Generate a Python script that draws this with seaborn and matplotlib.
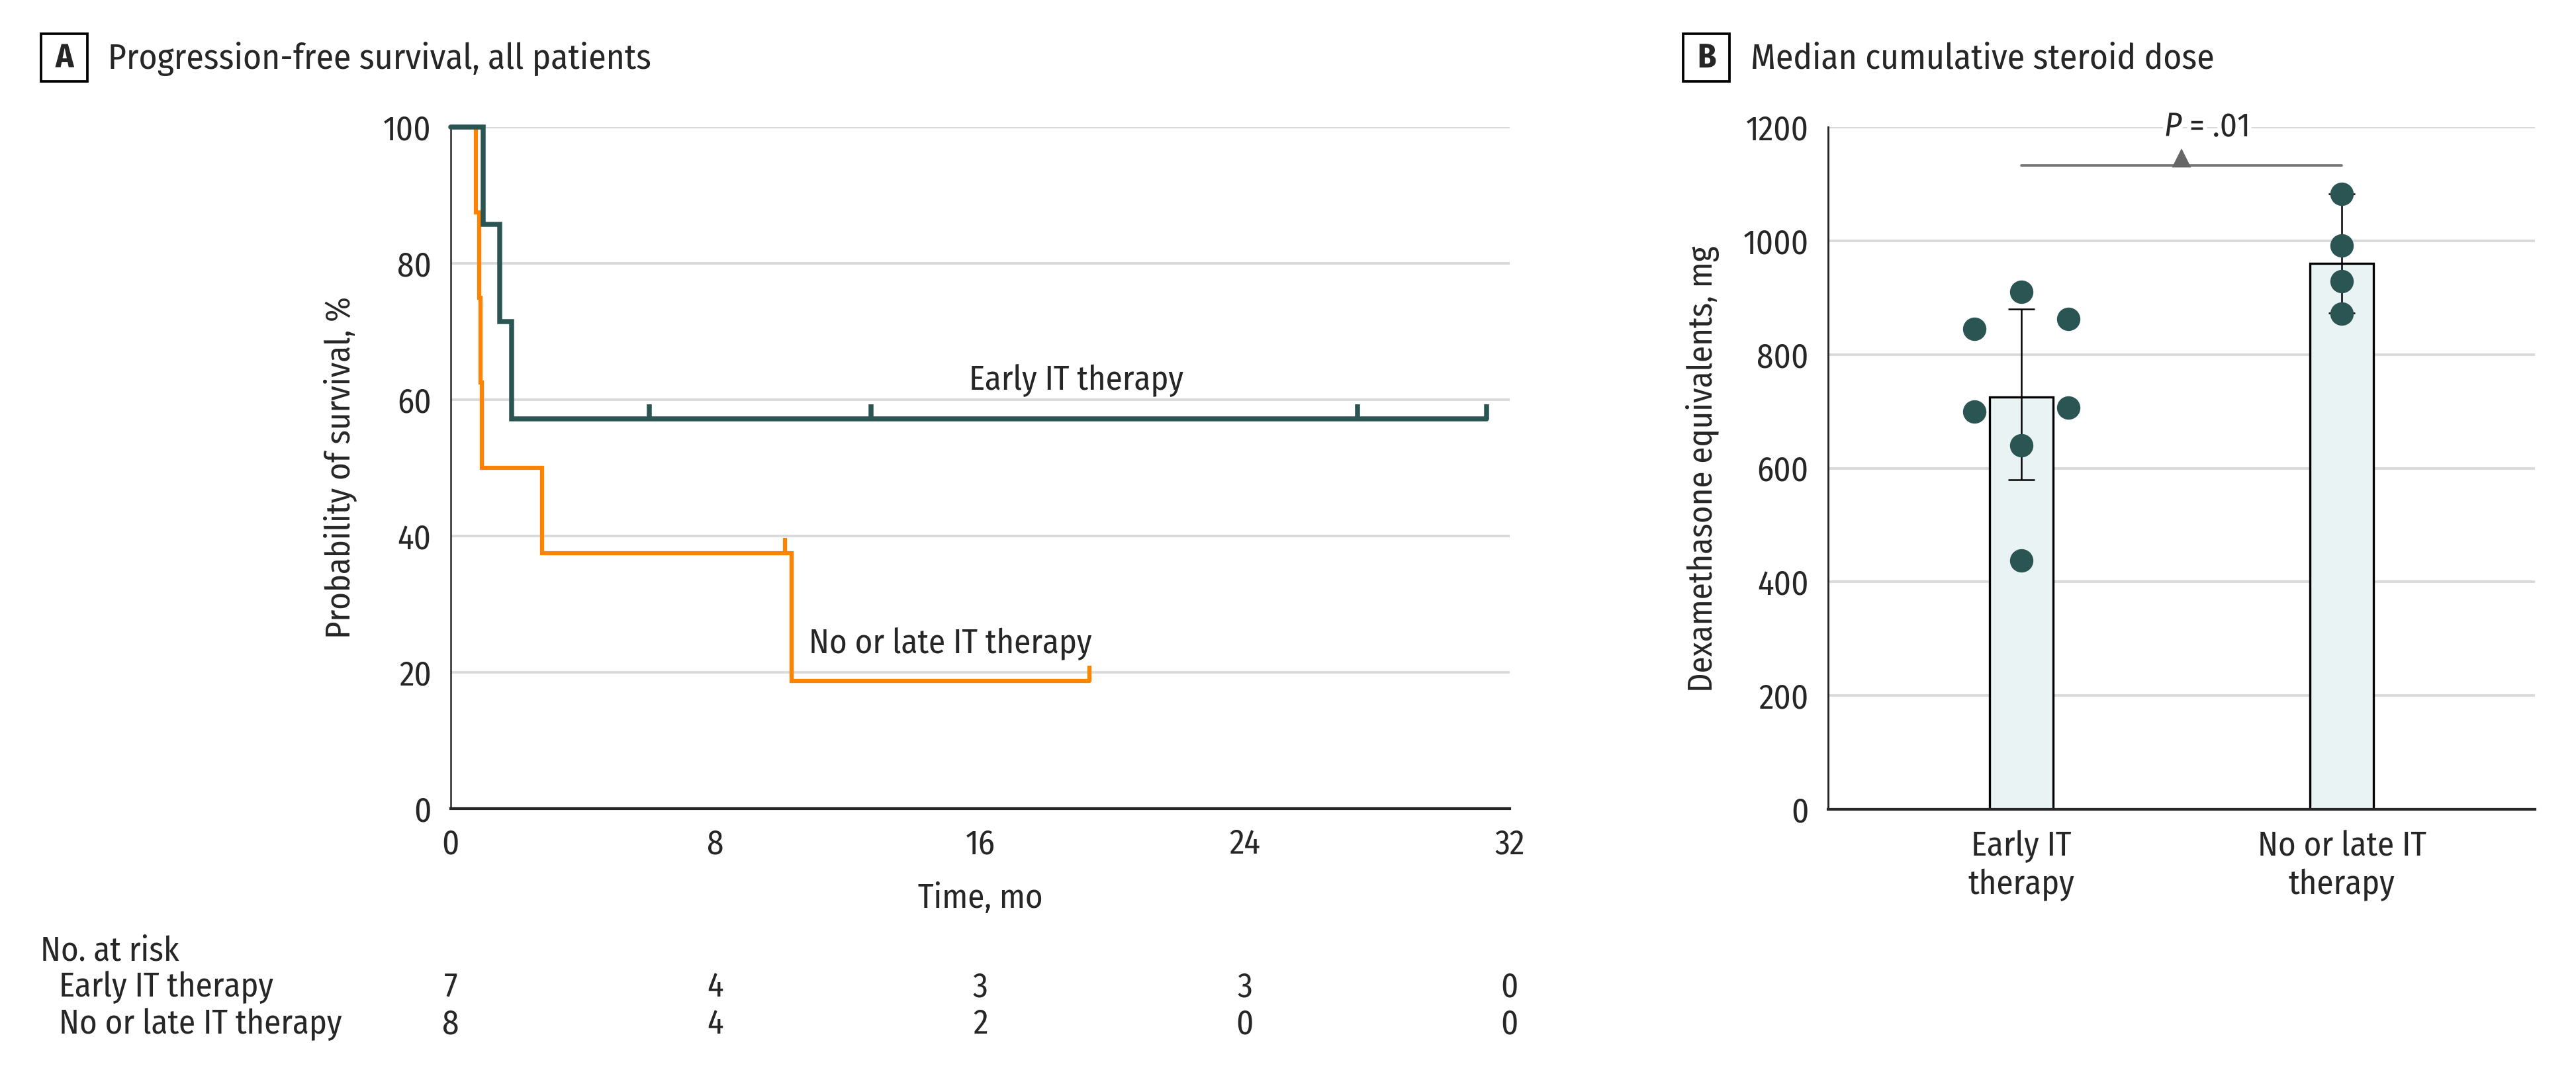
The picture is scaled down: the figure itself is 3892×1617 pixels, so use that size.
import numpy as np
import pandas as pd
import matplotlib
matplotlib.use("Agg")
import matplotlib.pyplot as plt
import seaborn as sns
from matplotlib import patheffects as pe
from matplotlib import font_manager as fm
from matplotlib.patches import Rectangle
from matplotlib.transforms import blended_transform_factory

# ---------------- data ----------------
km_groups = ["Early IT therapy", "No or late IT therapy"]
early_event_times = [0.98, 1.48, 1.84]
early_censor_times = [6.0, 12.7, 27.4, 31.3]
late_event_times = [0.76, 0.86, 0.90, 0.93, 2.75, 10.3]
late_censor_times = [10.1, 19.3]
x_ticks_a = [0, 8, 16, 24, 32]
y_ticks_a = [0, 20, 40, 60, 80, 100]
at_risk_early = [7, 4, 3, 3, 0]
at_risk_late = [8, 4, 2, 0, 0]

dose_groups = ["Early IT\ntherapy", "No or late IT\ntherapy"]
dose_bar = [725, 960]
dose_err_low = [580, 873]
dose_err_high = [880, 1082]
early_doses = [910, 845, 863, 700, 707, 640, 438]
late_doses = [1082, 992, 929, 872]
y_ticks_b = [0, 200, 400, 600, 800, 1000, 1200]
p_value_text = ".01"
p_bracket_level = 1133

# ---------------- style ----------------
DARK = "#2A5553"
ORANGE = "#FF8200"
GRID = "#D9D9D9"
BAR_FILL = "#E9F3F3"
W, H = 3892, 1617
DPI = 300
FS = 12.2
FS_TITLE = 12.8

sns.set_style("white")


def pick_family(cands):
    for c in cands:
        try:
            fm.findfont(fm.FontProperties(family=c), fallback_to_default=False)
            return c
        except Exception:
            continue
    return "DejaVu Sans"


MAIN = pick_family(["Fira Sans Condensed", "IBM Plex Sans Condensed",
                    "Roboto Condensed", "Source Sans 3"])
plt.rcParams["font.family"] = [MAIN, "DejaVu Sans"]
plt.rcParams["font.size"] = FS


def fx(px):
    return px / W


def fy(py):
    return 1 - py / H


def km(events, censors):
    n = len(events) + len(censors)
    s = 100.0
    xs, ys = [0.0], [100.0]
    cx, cy = [], []
    for t in sorted(set(events) | set(censors)):
        d = events.count(t)
        c = censors.count(t)
        if d:
            s *= (n - d) / n
            xs.append(t)
            ys.append(s)
        if c:
            cx.append(t)
            cy.append(s)
        n -= d + c
    last = max(events + censors)
    if xs[-1] < last:
        xs.append(last)
        ys.append(s)
    return xs, ys, cx, cy


fig = plt.figure(figsize=(W / DPI, H / DPI), dpi=DPI)

# ---------------- panel A ----------------
axA = fig.add_axes([fx(681), fy(1222), fx(2281) - fx(681), fy(192) - fy(1222)])
for ev, ce, col, lw, z in [
    (late_event_times, late_censor_times, ORANGE, 1.5, 3),
    (early_event_times, early_censor_times, DARK, 1.8, 4),
]:
    xs, ys, cx, cy = km(ev, ce)
    sns.lineplot(x=xs, y=ys, drawstyle="steps-post", estimator=None, sort=False,
                 color=col, linewidth=lw, ax=axA, zorder=z)
    axA.vlines(cx, np.array(cy), np.array(cy) + 2.2, color=col, linewidth=lw, zorder=z)
for ln in axA.lines:
    ln.set_clip_on(False)
    ln.set_solid_joinstyle("miter")

axA.set_xlim(0, 32)
axA.set_ylim(0, 100)
axA.set_xticks(x_ticks_a)
axA.set_yticks(y_ticks_a)
axA.yaxis.grid(True, color=GRID, linewidth=0.9)
axA.set_axisbelow(True)
for sp in ["top", "right"]:
    axA.spines[sp].set_visible(False)
axA.spines["left"].set_linewidth(0.6)
axA.spines["bottom"].set_linewidth(1.0)
axA.tick_params(axis="both", direction="out", length=4, width=0.6, color="black",
                labelsize=FS, pad=3)
axA.set_xlabel("")
axA.set_ylabel("")
axA.text(18.9, 62.8, km_groups[0], ha="center", va="center", fontsize=FS)
axA.text(15.1, 24.2, km_groups[1], ha="center", va="center", fontsize=FS)

fig.text(fx(514), fy(707), "Probability of survival, %", rotation=90,
         ha="center", va="center", fontsize=FS)
fig.text(fx(1481), fy(1358), "Time, mo", ha="center", va="center", fontsize=FS)

# number at risk table
fig.text(fx(61), fy(1437), "No. at risk", ha="left", va="center", fontsize=FS)
fig.text(fx(89), fy(1492), km_groups[0], ha="left", va="center", fontsize=FS)
fig.text(fx(89), fy(1548), km_groups[1], ha="left", va="center", fontsize=FS)
trA = blended_transform_factory(axA.transData, fig.transFigure)
for t, a, b in zip(x_ticks_a, at_risk_early, at_risk_late):
    axA.text(t, fy(1492), str(a), transform=trA, ha="center", va="center", fontsize=FS)
    axA.text(t, fy(1548), str(b), transform=trA, ha="center", va="center", fontsize=FS)

# panel titles
for (x0, x1, cx, tx, letter, title) in [
    (62, 132, 97, 163, "A", "Progression-free survival, all patients"),
    (2543, 2613, 2578, 2645, "B", "Median cumulative steroid dose"),
]:
    fig.patches.append(Rectangle((fx(x0), fy(123)), fx(x1) - fx(x0), fy(51) - fy(123),
                                 transform=fig.transFigure, fill=False,
                                 edgecolor="black", linewidth=0.9))
    fig.text(fx(cx), fy(102.5), letter, ha="center", va="baseline",
             fontsize=FS, fontweight="bold")
    fig.text(fx(tx), fy(104), title, ha="left", va="baseline", fontsize=FS_TITLE)

# ---------------- panel B ----------------
axB = fig.add_axes([fx(2762), fy(1223), fx(3830) - fx(2762), fy(192) - fy(1223)])
sns.barplot(x=dose_groups, y=dose_bar, width=0.2, color=BAR_FILL, saturation=1,
            edgecolor="black", linewidth=0.8, errorbar=None, ax=axB, zorder=2)
lo = np.array(dose_err_low)
hi = np.array(dose_err_high)
axB.errorbar(x=[0, 1], y=(lo + hi) / 2, yerr=(hi - lo) / 2, fmt="none",
             ecolor="black", elinewidth=0.6, capsize=4.8, capthick=0.6, zorder=3)

early_offsets = [0, -1, 1, -1, 1, 0, 0]
late_offsets = [0, 0, 0, 0]
spread = 0.147
pts = pd.DataFrame({
    "x": [0 + o * spread for o in early_offsets] + [1 + o * spread for o in late_offsets],
    "y": early_doses + late_doses,
})
sns.scatterplot(data=pts, x="x", y="y", s=72, color=DARK, linewidth=0, ax=axB, zorder=5)

axB.set_xlim(-0.603, 1.603)
axB.set_ylim(0, 1200)
axB.set_yticks(y_ticks_b)
axB.yaxis.grid(True, color=GRID, linewidth=0.9)
axB.set_axisbelow(True)
for sp in ["top", "right"]:
    axB.spines[sp].set_visible(False)
axB.spines["left"].set_linewidth(0.7)
axB.spines["bottom"].set_linewidth(1.0)
axB.tick_params(axis="y", direction="out", length=4, width=0.6, color="black",
                labelsize=FS, pad=3)
axB.tick_params(axis="x", length=0, labelsize=FS, pad=7.5)
for lab in axB.get_xticklabels():
    lab.set_linespacing(1.2)
axB.set_xlabel("")
axB.set_ylabel("")

axB.plot([0, 1], [p_bracket_level, p_bracket_level], color="#777777", linewidth=0.9,
         zorder=4, clip_on=False)
axB.plot([0.5], [p_bracket_level + 11], marker="^", markersize=5.5, color="#666666",
         linestyle="none", zorder=4, clip_on=False)
stroke = [pe.withStroke(linewidth=3, foreground="white")]
axB.text(0.5, 1200, "P", ha="right", va="center", fontsize=FS, style="italic",
         zorder=6, path_effects=stroke)
axB.annotate(" = " + p_value_text, xy=(0.5, 1200), xytext=(0, 0), textcoords="offset points",
             ha="left", va="center", fontsize=FS, zorder=6, path_effects=stroke)

fig.text(fx(2572), fy(709), "Dexamethasone equivalents, mg", rotation=90,
         ha="center", va="center", fontsize=FS)

fig.savefig("out.png", dpi=DPI)
